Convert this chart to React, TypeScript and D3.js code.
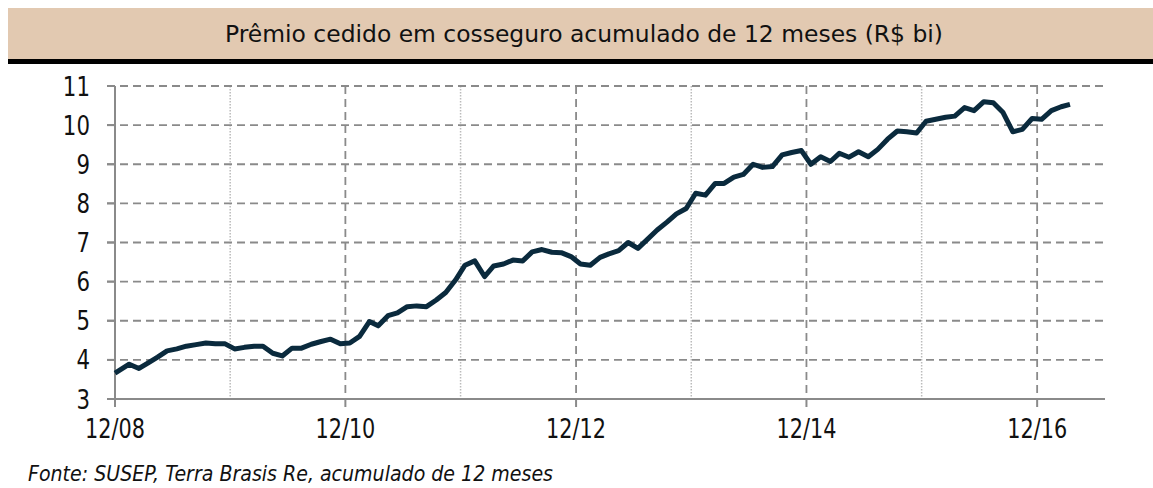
import React from 'react';
import * as d3 from 'd3';

const title = 'Prêmio cedido em cosseguro acumulado de 12 meses (R$ bi)';
const source = 'Fonte: SUSEP, Terra Brasis Re, acumulado de 12 meses';

// Monthly 12-month accumulated ceded premium (R$ bi), Dec/2008 .. Mar/2017
const values: number[] = [
  3.66, 3.89, 3.78, 3.92, 4.07, 4.23, 4.28, 4.35, 4.39, 4.43,
  4.41, 4.41, 4.28, 4.32, 4.35, 4.35, 4.17, 4.10, 4.30, 4.30,
  4.40, 4.47, 4.53, 4.41, 4.43, 4.60, 4.98, 4.87, 5.13, 5.20,
  5.36, 5.38, 5.36, 5.53, 5.72, 6.04, 6.42, 6.53, 6.13, 6.40,
  6.45, 6.55, 6.53, 6.76, 6.82, 6.75, 6.74, 6.64, 6.45, 6.42,
  6.62, 6.71, 6.79, 7.00, 6.85, 7.08, 7.32, 7.52, 7.73, 7.87,
  8.26, 8.21, 8.51, 8.51, 8.67, 8.74, 9.00, 8.92, 8.94, 9.24,
  9.30, 9.35, 9.00, 9.19, 9.07, 9.28, 9.18, 9.32, 9.19, 9.38,
  9.64, 9.85, 9.83, 9.80, 10.10, 10.15, 10.20, 10.23, 10.45, 10.37,
  10.60, 10.57, 10.32, 9.83, 9.89, 10.17, 10.15, 10.37, 10.47, 10.53,
];

const majorYears = [2008, 2010, 2012, 2014, 2016];
const minorYears = [2009, 2011, 2013, 2015];
const yTicks = [3, 4, 5, 6, 7, 8, 9, 10, 11];

const W = 1153;
const H = 488;

export default function App() {
  const left = 115;
  const right = 1105;
  const top = 86;
  const bottom = 399;

  const x = d3
    .scaleTime()
    .domain([new Date(2008, 11, 1), new Date(2017, 6, 4)])
    .range([left, right]);
  const y = d3.scaleLinear().domain([3, 11]).range([bottom, top]);

  const dates = values.map((_, i) =>
    i === 0 ? new Date(2008, 11, 1) : new Date(2008, 11 + i, 15)
  );

  const linePath =
    d3
      .line<number>()
      .x((_, i) => x(dates[i]))
      .y((d) => y(d))(values) || '';

  const gridColor = '#8a8a8a';
  const font = '"DejaVu Sans", Verdana, sans-serif';

  return (
    <svg
      width={W}
      height={H}
      viewBox={`0 0 ${W} ${H}`}
      style={{ position: 'absolute', left: 0, top: 0, background: '#fff' }}
    >
      {/* Title band */}
      <rect x={8} y={8} width={W - 8} height={51} fill="#e2c9b1" />
      <rect x={8} y={59} width={W - 8} height={5} fill="#000" />
      <text
        x={584}
        y={42}
        textAnchor="middle"
        fontFamily={font}
        fontSize={23}
        fill="#111"
        textLength={718}
        lengthAdjust="spacingAndGlyphs"
      >
        {title}
      </text>

      {/* Minor vertical gridlines (dotted) */}
      {minorYears.map((yr) => (
        <line
          key={'mi' + yr}
          x1={x(new Date(yr, 11, 1))}
          x2={x(new Date(yr, 11, 1))}
          y1={top}
          y2={bottom}
          stroke="#bbbbbb"
          strokeWidth={1.5}
          strokeDasharray="1.5,1.5"
        />
      ))}

      {/* Horizontal gridlines */}
      {yTicks
        .filter((t) => t > 3)
        .map((t) => (
          <line
            key={'h' + t}
            x1={107}
            x2={right}
            y1={y(t)}
            y2={y(t)}
            stroke={gridColor}
            strokeWidth={1.8}
            strokeDasharray="8,5"
          />
        ))}

      {/* Major vertical gridlines (dashed) */}
      {majorYears
        .filter((yr) => yr > 2008)
        .map((yr) => (
          <line
            key={'ma' + yr}
            x1={x(new Date(yr, 11, 1))}
            x2={x(new Date(yr, 11, 1))}
            y1={top}
            y2={bottom}
            stroke={gridColor}
            strokeWidth={1.8}
            strokeDasharray="8,5"
          />
        ))}

      {/* Axes */}
      <line x1={left} x2={left} y1={top} y2={bottom + 8} stroke={gridColor} strokeWidth={2} />
      <line x1={107} x2={right} y1={bottom} y2={bottom} stroke={gridColor} strokeWidth={2} />
      {yTicks.map((t) => (
        <line key={'yt' + t} x1={107} x2={left} y1={y(t)} y2={y(t)} stroke={gridColor} strokeWidth={2} />
      ))}
      {majorYears.map((yr) => (
        <line
          key={'xt' + yr}
          x1={x(new Date(yr, 11, 1))}
          x2={x(new Date(yr, 11, 1))}
          y1={bottom}
          y2={bottom + 8}
          stroke={gridColor}
          strokeWidth={2}
        />
      ))}

      {/* Y labels */}
      {yTicks.map((t) => (
        <text
          key={'yl' + t}
          transform={`translate(90,${y(t) + 9.5}) scale(0.82,1)`}
          textAnchor="end"
          fontFamily={font}
          fontSize={26}
          fill="#111"
        >
          {t}
        </text>
      ))}

      {/* X labels */}
      {majorYears.map((yr) => (
        <text
          key={'xl' + yr}
          transform={`translate(${x(new Date(yr, 11, 1))},438) scale(0.8,1)`}
          textAnchor="middle"
          fontFamily={font}
          fontSize={26}
          fill="#111"
        >
          {`12/${String(yr % 100).padStart(2, '0')}`}
        </text>
      ))}

      {/* Series line */}
      <path
        d={linePath}
        fill="none"
        stroke="#0a2a3d"
        strokeWidth={5}
        strokeLinejoin="round"
      />

      {/* Source */}
      <text
        x={28}
        y={481}
        fontFamily={font}
        fontStyle="italic"
        fontSize={21}
        fill="#111"
        textLength={525}
        lengthAdjust="spacingAndGlyphs"
      >
        {source}
      </text>
    </svg>
  );
}
